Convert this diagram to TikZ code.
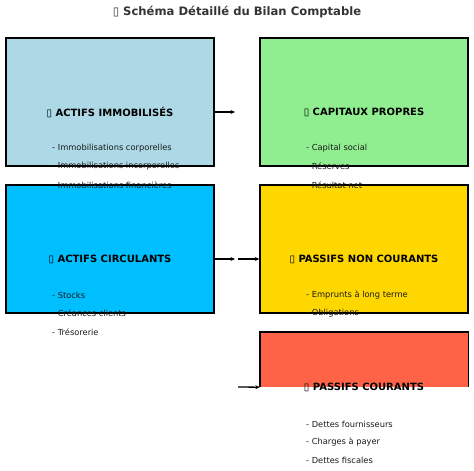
\documentclass[tikz,border=0pt]{standalone}
\usepackage{fontspec}
\setmainfont{DejaVu Sans}
\usetikzlibrary{arrows.meta}
\definecolor{immo}{HTML}{ADD8E6}
\definecolor{capi}{HTML}{90EE90}
\definecolor{circ}{HTML}{00BFFF}
\definecolor{pnc}{HTML}{FFD700}
\definecolor{pc}{HTML}{FF6347}
\definecolor{gris}{HTML}{333333}
\tikzset{
  bloc/.style={rectangle, draw, line width=1.4bp, minimum width=208bp, minimum height=128bp, inner sep=0pt},
  entete/.style={font=\bfseries\fontsize{10bp}{12bp}\selectfont},
  poste/.style={anchor=west, inner sep=0pt, font=\fontsize{8.3bp}{10bp}\selectfont, text=black!90},
  fleche/.style={-{Stealth[length=4.5bp,width=4bp]}, line width=1.3bp}
}
\begin{document}
\begin{tikzpicture}[x=1bp, y=-1bp]
   \useasboundingbox (0,0) rectangle (474,471);
   \node[font=\bfseries\fontsize{11.6bp}{14bp}\selectfont, text=gris] (ttl) at (237,12) {▯ Schéma Détaillé du Bilan Comptable};
   % blocs
   \node[bloc, fill=immo] (AI) at (110,102) {};
   \node[bloc, fill=capi] (CP) at (364,102) {};
   \node[bloc, fill=circ] (AC) at (110,249) {};
   \node[bloc, fill=pnc] (PNC) at (364,249) {};
   \node[rectangle, fill=pc, minimum width=208bp, minimum height=55bp, inner sep=0pt] (PC) at (364,359.5) {};
   \draw[line width=1.4bp] (PC.south west) |- (PC.north east) -- (PC.south east);
   % titres des blocs
   \node[entete] (tAI) at (110,112) {▯ ACTIFS IMMOBILISÉS};
   \node[entete] (tCP) at (364,112) {▯ CAPITAUX PROPRES};
   \node[entete] (tAC) at (110,259) {▯ ACTIFS CIRCULANTS};
   \node[entete] (tPNC) at (364,259) {▯ PASSIFS NON COURANTS};
   \node[entete] (tPC) at (364,387) {▯ PASSIFS COURANTS};
   % postes
   \node[poste] (AI1) at (52,148) {- Immobilisations corporelles};
   \node[poste] (AI2) at (52,166) {- Immobilisations incorporelles};
   \node[poste] (AI3) at (52,185) {- Immobilisations financières};
   \node[poste] (CP1) at (306,148) {- Capital social};
   \node[poste] (CP2) at (306,166) {- Réserves};
   \node[poste] (CP3) at (306,185) {- Résultat net};
   \node[poste] (AC1) at (52,295) {- Stocks};
   \node[poste] (AC2) at (52,313) {- Créances clients};
   \node[poste] (AC3) at (52,332) {- Trésorerie};
   \node[poste] (PNC1) at (306,295) {- Emprunts à long terme};
   \node[poste] (PNC2) at (306,313) {- Obligations};
   \node[poste] (PC1) at (306,424) {- Dettes fournisseurs};
   \node[poste] (PC2) at (306,442) {- Charges à payer};
   \node[poste] (PC3) at (306,460) {- Dettes fiscales};
   % fleches
   \coordinate (f1) at (235,112);
   \coordinate (f2) at (235,259);
   \coordinate (f3) at (238,259);
   \coordinate (f4) at (238,387);
   \draw[fleche] (AI.east |- tAI) -- (f1);
   \draw[fleche] (AC.east |- tAC) -- (f2);
   \draw[fleche] (f3) -- (PNC.west |- tPNC);
   \draw[fleche] (f4) -- (PC.south west);
\end{tikzpicture}
\end{document}
